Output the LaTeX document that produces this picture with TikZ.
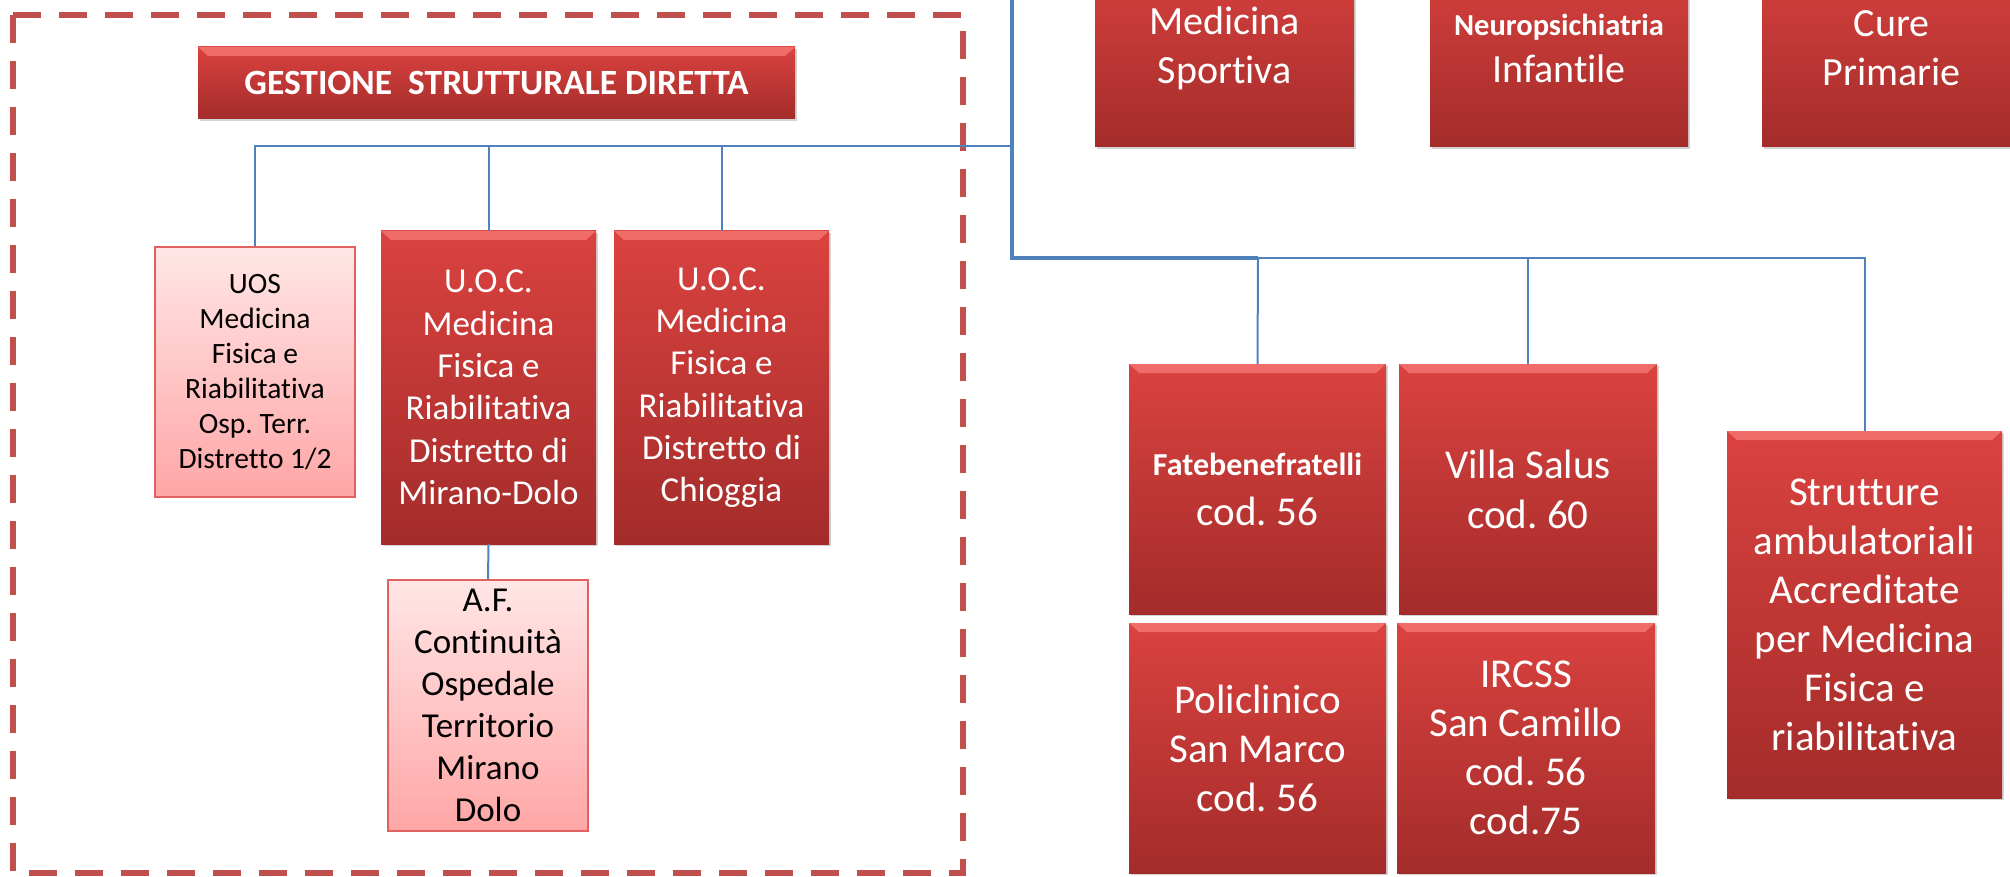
\documentclass[tikz,border=0pt]{standalone}
\usepackage{fontspec}
\setmainfont{Carlito}[Ligatures=NoCommon]
\usetikzlibrary{shadows}
\definecolor{rtop}{RGB}{218,66,63}
\definecolor{rbot}{RGB}{163,44,42}
\definecolor{rhi}{RGB}{240,108,104}
\definecolor{ptop}{RGB}{255,230,230}
\definecolor{pbot}{RGB}{255,166,166}
\definecolor{pinkb}{RGB}{224,98,96}
\definecolor{lblue}{RGB}{79,129,189}
\definecolor{frame}{RGB}{192,80,77}
\frenchspacing
\begin{document}
\begin{tikzpicture}[x=1pt,y=-1pt,
  conn/.style={draw=lblue, line width=2pt},
  trunk/.style={draw=lblue, line width=3.5pt},
  redbox/.style={rectangle, inner sep=0pt, top color=rtop, bottom color=rbot, text=white, align=center,
    drop shadow={shadow xshift=1.5pt,shadow yshift=-2pt,opacity=0.35},
    path picture={\fill[rhi] (path picture bounding box.north west) -- (path picture bounding box.north east)
      -- ([xshift=-10pt,yshift=-9pt]path picture bounding box.north east) -- ([xshift=10pt,yshift=-9pt]path picture bounding box.north west) -- cycle;}},
  pinkbox/.style={rectangle, inner sep=0pt, draw=pinkb, line width=2pt, top color=ptop, bottom color=pbot, text=black, align=center},
  dashframe/.style={draw=frame, line width=6pt, dash pattern=on 28pt off 18pt},
]
\useasboundingbox (0,0) rectangle (2010,877);
\clip (0,0) rectangle (2010,877);

% dashed frame
\draw[dashframe] (13,15) rectangle (963,873);

% top boxes (cut off)
\node[redbox, minimum width=259pt, minimum height=197pt, font=\fontsize{40}{49}\selectfont] (ms) at (1224.5,48.5) {Medicina\\Sportiva};
\node[redbox, minimum width=258pt, minimum height=197pt, font=\fontsize{40}{47}\selectfont] (np) at (1559,48.5) {{\bfseries\fontsize{30.5}{36}\selectfont Neuropsichiatria}\\Infantile};
\node[redbox, minimum width=259pt, minimum height=197pt, font=\fontsize{40}{49}\selectfont] (cp) at (1891.5,48.5) {Cure\\Primarie};

% gestione
\node[redbox, minimum width=597pt, minimum height=72pt, font=\bfseries\fontsize{35.5}{40}\selectfont] (gsd) at (496.5,83) {GESTIONE\ \ STRUTTURALE DIRETTA};

% left boxes
\node[pinkbox, minimum width=200pt, minimum height=250pt, font=\fontsize{29.5}{35}\selectfont] (uos) at (255,372) {UOS\\Medicina\\Fisica e\\Riabilitativa\\Osp. Terr.\\Distretto 1/2};
\node[redbox, minimum width=215pt, minimum height=313pt, font=\fontsize{35}{42.3}\selectfont] (uocm) at (488.5,387.5) {U.O.C.\\Medicina\\Fisica e\\Riabilitativa\\Distretto di\\Mirano-Dolo};
\node[redbox, minimum width=215pt, minimum height=313pt, font=\fontsize{35}{42.3}\selectfont] (uocc) at (721.5,387.5) {U.O.C.\\Medicina\\Fisica e\\Riabilitativa\\Distretto di\\Chioggia};
\node[pinkbox, minimum width=200pt, minimum height=251pt, font=\fontsize{35}{42}\selectfont] (af) at (488,705.5) {A.F.\\Continuità\\Ospedale\\Territorio\\Mirano\\Dolo};

% right boxes
\node[redbox, minimum width=257pt, minimum height=250pt, font=\fontsize{41}{50}\selectfont] (fate) at (1257.5,489) {{\bfseries\fontsize{32}{38}\selectfont Fatebenefratelli}\\cod. 56};
\node[redbox, minimum width=258pt, minimum height=250pt, font=\fontsize{41}{50}\selectfont] (villa) at (1528,489) {Villa Salus\\cod. 60};
\node[redbox, minimum width=257pt, minimum height=250pt, font=\fontsize{41}{49}\selectfont] (poli) at (1257.5,748) {Policlinico\\San Marco\\cod. 56};
\node[redbox, minimum width=258pt, minimum height=250pt, font=\fontsize{41}{49}\selectfont] (irc) at (1526,748) {IRCSS\\San Camillo\\cod. 56\\cod.75};
\node[redbox, minimum width=275pt, minimum height=367pt, font=\fontsize{41}{49}\selectfont] (str) at (1864.5,614.5) {Strutture\\ambulatoriali\\Accreditate\\per Medicina\\Fisica e\\riabilitativa};

% connectors
\coordinate (top) at (1012,-4);
\coordinate (j1) at (1012,146);
\coordinate (j2) at (1012,258);
\coordinate (j3) at (1258,258);
\draw[trunk] (top) -- (j2) -- (j3);
\draw[conn] (j1) -| (uocm.north);
\draw[conn] (j1) -| (uocc.north);
\draw[conn] (uocm.north |- j1) -| (uos.north);
\draw[conn] (uocm.south) -- (af.north);
\draw[conn] (j3) -- (fate.north);
\draw[conn] (j3) -| (villa.north);
\draw[conn] (j3) -| (str.north);
\end{tikzpicture}
\end{document}
